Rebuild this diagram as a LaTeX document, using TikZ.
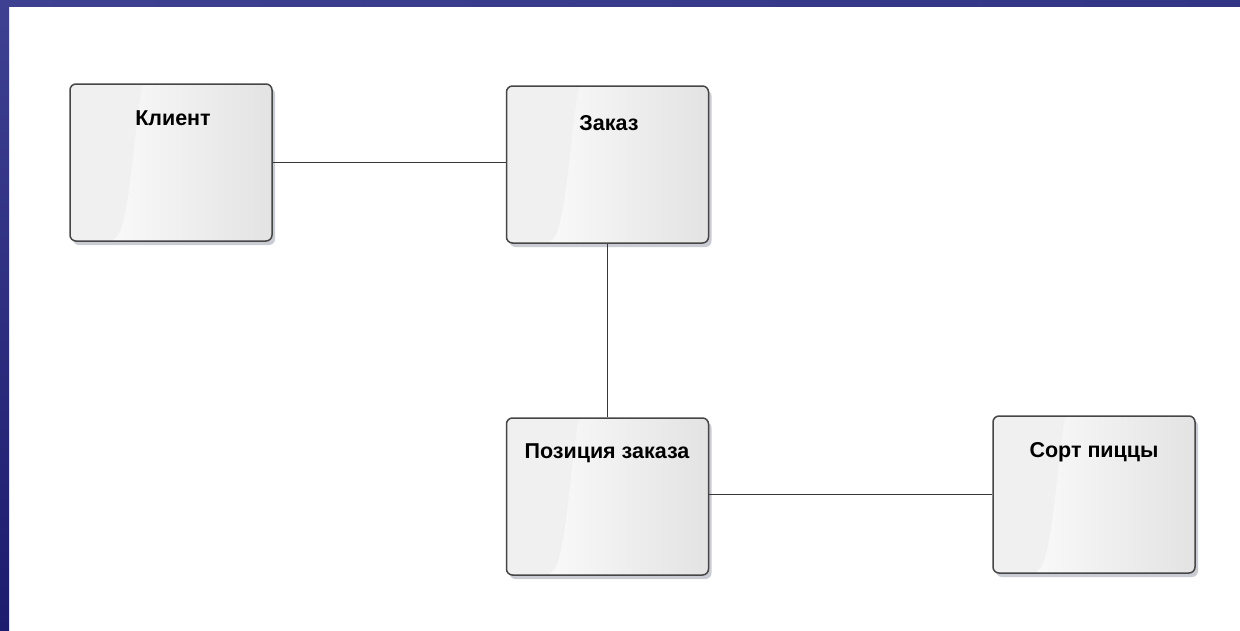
\documentclass[tikz,border=0pt]{standalone}
\usepackage{fontspec}
\setmainfont{Liberation Sans}
\usetikzlibrary{shadows,calc}
\definecolor{bandtop}{RGB}{62,64,146}
\definecolor{bandmid}{RGB}{50,52,134}
\definecolor{bandbot}{RGB}{28,28,108}
\definecolor{edgec}{RGB}{70,70,70}
\definecolor{linec}{RGB}{55,55,55}
\definecolor{shadowc}{RGB}{150,155,170}
\tikzset{
  entity/.style={draw=edgec, line width=1.5pt, rounded corners=6pt,
    minimum width=202pt, minimum height=157pt, inner sep=0pt,
    fill=black!6,
    drop shadow={shadow xshift=3pt, shadow yshift=-4pt, opacity=0.5, fill=shadowc},
    path picture={
      \fill[left color=white, right color=black!11]
        ([xshift=72pt]path picture bounding box.north west)
        .. controls ([xshift=62pt,yshift=-70pt]path picture bounding box.north west)
        and ([xshift=58pt,yshift=10pt]path picture bounding box.south west)
        .. ([xshift=40pt]path picture bounding box.south west)
        -- (path picture bounding box.south east)
        -- (path picture bounding box.north east) -- cycle;
    }},
  title/.style={font=\bfseries\fontsize{21.5}{24}\selectfont, text=black, anchor=center},
  conn/.style={draw=linec, line width=1.6pt}
}
\begin{document}
\begin{tikzpicture}[x=1pt,y=-1pt]
\useasboundingbox (0,0) rectangle (1240,630);
\fill[white] (0,0) rectangle (1240,630);
% frame bands
\shade[top color=bandtop, bottom color=bandbot] (0,0) rectangle (9,630);
\shade[left color=bandtop, right color=bandmid] (0,0) rectangle (1240,6);

\node[entity] (k) at (171,162.5) {};
\node[entity] (z) at (607.5,164.5) {};
\node[entity] (p) at (607.5,496.5) {};
\node[entity] (s) at (1094,494.5) {};

\node[title] (kt) at (173,118) {Клиент};
\node[title] (zt) at (609,123) {Заказ};
\node[title] (pt) at (607,453) {Позиция заказа};
\node[title] (st) at (1094,452) {Сорт пиццы};

\draw[conn] (k.east) -- (k.east -| z.west);
\draw[conn] (z.south) -- (z.south |- p.north);
\draw[conn] (s.west -| p.east) -- (s.west);
\end{tikzpicture}
\end{document}
